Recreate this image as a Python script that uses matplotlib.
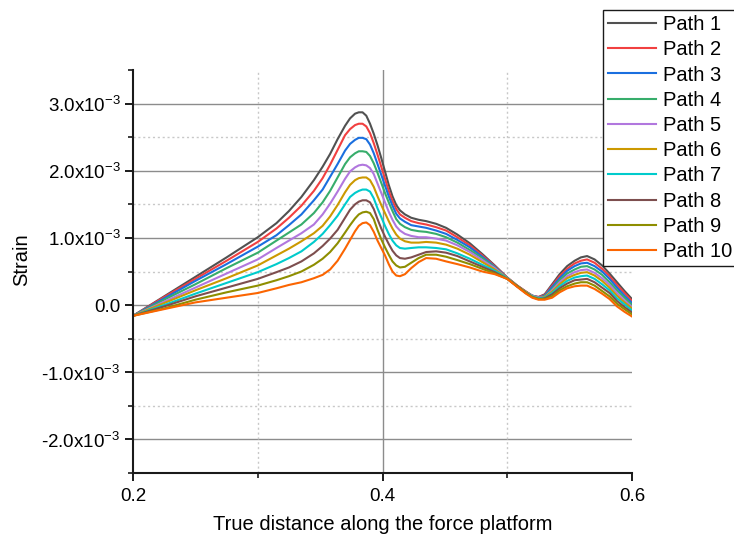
import matplotlib
matplotlib.use("Agg")
import matplotlib.pyplot as plt
from matplotlib.ticker import MultipleLocator, FuncFormatter, FixedLocator

plt.rcParams['font.family'] = ['Liberation Sans', 'DejaVu Sans']
plt.rcParams['mathtext.fontset'] = 'custom'
plt.rcParams['mathtext.rm'] = 'Liberation Sans'

# Position along the platform (m)
distance = [0.200, 0.225, 0.250, 0.275, 0.300, 0.315, 0.325, 0.335, 0.345, 0.352, 0.358,
            0.364, 0.370, 0.374, 0.378, 0.381, 0.384, 0.387, 0.390, 0.393, 0.396, 0.399,
            0.402, 0.405, 0.408, 0.411, 0.414, 0.418, 0.423, 0.429, 0.435, 0.443, 0.451,
            0.460, 0.470, 0.480, 0.490, 0.500, 0.508, 0.515, 0.520, 0.525, 0.530, 0.536,
            0.542, 0.548, 0.554, 0.559, 0.564, 0.570, 0.576, 0.582, 0.588, 0.594, 0.600]

# Strain per path, in units of 1e-3
path_1 = [-0.16, 0.13, 0.42, 0.71, 1.01, 1.22, 1.40, 1.61, 1.86, 2.06, 2.25,
          2.47, 2.67, 2.78, 2.85, 2.87, 2.87, 2.82, 2.70, 2.55, 2.38, 2.19,
          1.99, 1.79, 1.62, 1.49, 1.41, 1.35, 1.30, 1.27, 1.25, 1.21, 1.15,
          1.05, 0.92, 0.76, 0.59, 0.41, 0.29, 0.20, 0.14, 0.12, 0.16, 0.31,
          0.46, 0.58, 0.66, 0.71, 0.73, 0.68, 0.59, 0.47, 0.34, 0.21, 0.09]
path_2 = [-0.16, 0.12, 0.39, 0.66, 0.94, 1.14, 1.30, 1.48, 1.70, 1.89, 2.09,
          2.31, 2.53, 2.62, 2.68, 2.70, 2.70, 2.66, 2.56, 2.41, 2.24, 2.06,
          1.88, 1.70, 1.55, 1.43, 1.35, 1.30, 1.25, 1.22, 1.20, 1.16, 1.11,
          1.01, 0.89, 0.74, 0.58, 0.41, 0.29, 0.20, 0.14, 0.12, 0.15, 0.29,
          0.43, 0.54, 0.62, 0.66, 0.68, 0.63, 0.54, 0.43, 0.30, 0.18, 0.06]
path_3 = [-0.16, 0.10, 0.36, 0.61, 0.87, 1.04, 1.19, 1.35, 1.56, 1.72, 1.91,
          2.10, 2.30, 2.40, 2.46, 2.49, 2.49, 2.47, 2.39, 2.26, 2.10, 1.94,
          1.78, 1.62, 1.48, 1.36, 1.29, 1.24, 1.19, 1.17, 1.15, 1.11, 1.06,
          0.97, 0.86, 0.72, 0.57, 0.40, 0.28, 0.19, 0.14, 0.11, 0.14, 0.27,
          0.40, 0.51, 0.58, 0.62, 0.63, 0.58, 0.50, 0.39, 0.26, 0.14, 0.03]
path_4 = [-0.16, 0.08, 0.31, 0.55, 0.78, 0.96, 1.08, 1.20, 1.37, 1.53, 1.70,
          1.90, 2.10, 2.20, 2.26, 2.29, 2.29, 2.28, 2.22, 2.11, 1.97, 1.82,
          1.67, 1.53, 1.40, 1.28, 1.21, 1.16, 1.12, 1.10, 1.09, 1.06, 1.01,
          0.93, 0.82, 0.70, 0.56, 0.40, 0.28, 0.19, 0.14, 0.11, 0.13, 0.24,
          0.37, 0.47, 0.53, 0.57, 0.58, 0.53, 0.45, 0.34, 0.22, 0.11, 0.00]
path_5 = [-0.16, 0.05, 0.26, 0.47, 0.68, 0.85, 0.96, 1.07, 1.20, 1.35, 1.51,
          1.69, 1.88, 1.99, 2.05, 2.08, 2.09, 2.08, 2.04, 1.95, 1.81, 1.67,
          1.53, 1.39, 1.27, 1.17, 1.11, 1.06, 1.03, 1.01, 1.01, 0.99, 0.96,
          0.89, 0.79, 0.67, 0.55, 0.40, 0.28, 0.19, 0.14, 0.11, 0.12, 0.22,
          0.34, 0.43, 0.49, 0.52, 0.53, 0.48, 0.40, 0.30, 0.18, 0.07, -0.03]
path_6 = [-0.16, 0.03, 0.22, 0.40, 0.59, 0.74, 0.84, 0.95, 1.07, 1.18, 1.32,
          1.49, 1.68, 1.79, 1.86, 1.89, 1.90, 1.90, 1.86, 1.76, 1.62, 1.49,
          1.37, 1.25, 1.14, 1.05, 0.99, 0.95, 0.93, 0.93, 0.94, 0.93, 0.90,
          0.84, 0.75, 0.64, 0.53, 0.40, 0.28, 0.19, 0.13, 0.10, 0.12, 0.20,
          0.31, 0.40, 0.45, 0.48, 0.49, 0.44, 0.36, 0.26, 0.14, 0.04, -0.05]
path_7 = [-0.16, 0.00, 0.17, 0.33, 0.49, 0.61, 0.70, 0.80, 0.94, 1.06, 1.19,
          1.33, 1.50, 1.61, 1.67, 1.70, 1.72, 1.72, 1.69, 1.59, 1.44, 1.31,
          1.18, 1.06, 0.96, 0.89, 0.85, 0.84, 0.85, 0.86, 0.86, 0.85, 0.83,
          0.77, 0.69, 0.60, 0.51, 0.40, 0.28, 0.18, 0.13, 0.10, 0.11, 0.18,
          0.28, 0.36, 0.41, 0.43, 0.44, 0.39, 0.31, 0.22, 0.10, 0.01, -0.08]
path_8 = [-0.16, -0.02, 0.13, 0.26, 0.39, 0.49, 0.56, 0.65, 0.77, 0.88, 0.99,
          1.12, 1.30, 1.42, 1.50, 1.54, 1.56, 1.56, 1.53, 1.43, 1.28, 1.14,
          1.02, 0.91, 0.81, 0.74, 0.70, 0.69, 0.71, 0.75, 0.79, 0.80, 0.78,
          0.73, 0.65, 0.57, 0.49, 0.39, 0.28, 0.18, 0.12, 0.09, 0.10, 0.16,
          0.25, 0.32, 0.37, 0.38, 0.39, 0.34, 0.26, 0.18, 0.06, -0.03, -0.11]
path_9 = [-0.16, -0.05, 0.08, 0.19, 0.29, 0.37, 0.43, 0.50, 0.60, 0.69, 0.79,
          0.92, 1.08, 1.19, 1.29, 1.35, 1.38, 1.39, 1.37, 1.28, 1.12, 0.98,
          0.86, 0.75, 0.65, 0.59, 0.56, 0.57, 0.63, 0.70, 0.75, 0.75, 0.72,
          0.67, 0.61, 0.54, 0.47, 0.39, 0.28, 0.18, 0.12, 0.09, 0.09, 0.13,
          0.22, 0.28, 0.32, 0.34, 0.34, 0.29, 0.21, 0.13, 0.02, -0.06, -0.14]
path_10 = [-0.16, -0.06, 0.04, 0.11, 0.18, 0.25, 0.30, 0.34, 0.40, 0.45, 0.53,
           0.66, 0.84, 0.97, 1.10, 1.18, 1.22, 1.23, 1.19, 1.09, 0.96, 0.85,
           0.74, 0.61, 0.50, 0.44, 0.43, 0.46, 0.55, 0.64, 0.70, 0.69, 0.65,
           0.61, 0.56, 0.50, 0.46, 0.39, 0.27, 0.17, 0.11, 0.08, 0.08, 0.11,
           0.19, 0.25, 0.28, 0.29, 0.29, 0.24, 0.17, 0.09, -0.02, -0.10, -0.17]

paths = [path_1, path_2, path_3, path_4, path_5,
         path_6, path_7, path_8, path_9, path_10]
labels = ["Path %d" % (i + 1) for i in range(10)]
colors = ["#515151", "#F14040", "#1A6FDF", "#37AD6B", "#B177DE",
          "#CC9900", "#00CBCC", "#7D4E4E", "#8E8E00", "#FB6501"]

fig = plt.figure(figsize=(7.34, 5.39), dpi=100)
ax = fig.add_axes([133 / 734, 1 - 473 / 539, 499 / 734, 403 / 539])

# grid: solid at major positions, dotted at minor positions
for yv in [-2e-3, -1e-3, 0.0, 1e-3, 2e-3, 3e-3]:
    ax.axhline(yv, color="#8c8c8c", lw=1.0, zorder=0)
for yv in [-1.5e-3, -0.5e-3, 0.5e-3, 1.5e-3, 2.5e-3]:
    ax.axhline(yv, color="#c8c8c8", lw=1.0, ls=(0, (1.5, 2)), zorder=0)
ax.axvline(0.4, color="#8c8c8c", lw=1.0, zorder=0)
for xv in [0.3, 0.5]:
    ax.axvline(xv, color="#c8c8c8", lw=1.0, ls=(0, (1.5, 2)), zorder=0)

handles = []
for vals, lab, col in zip(paths, labels, colors):
    strain = [v * 1e-3 for v in vals]
    h, = ax.plot(distance, strain, color=col, lw=1.5, label=lab,
                 solid_joinstyle="round", zorder=2)
    handles.append(h)

ax.set_xlim(0.2, 0.6)
ax.set_ylim(-2.5e-3, 3.5e-3)

ax.xaxis.set_major_locator(FixedLocator([0.2, 0.4, 0.6]))
ax.xaxis.set_minor_locator(FixedLocator([0.3, 0.5]))
ax.xaxis.set_major_formatter(FuncFormatter(lambda v, p: "%.1f" % v))
ax.yaxis.set_major_locator(MultipleLocator(1e-3))
ax.yaxis.set_minor_locator(MultipleLocator(0.5e-3))


def strain_fmt(v, pos):
    if abs(v) < 1e-12:
        return "0.0"
    return "%.1fx10$^{-3}$" % (v / 1e-3)


ax.yaxis.set_major_formatter(FuncFormatter(strain_fmt))

for side in ["top", "right"]:
    ax.spines[side].set_visible(False)
for side in ["left", "bottom"]:
    ax.spines[side].set_linewidth(1.5)
    ax.spines[side].set_color("#1a1a1a")

ax.tick_params(which="major", direction="out", length=6, width=1.4,
               color="#1a1a1a", labelsize=13.5)
ax.tick_params(which="minor", direction="out", length=3.5, width=1.2,
               color="#1a1a1a")
ax.tick_params(axis="x", which="major", pad=5)
ax.tick_params(axis="y", which="major", pad=3)

fig.text(382.5 / 734, 1 - 525 / 539, "True distance along the force platform",
         ha="center", va="center", fontsize=14.5)
fig.text(22 / 734, 1 - 260 / 539, "Strain", rotation=90,
         ha="center", va="center", fontsize=14.5)

leg = fig.legend(handles=handles, loc="upper left",
                 bbox_to_anchor=(603 / 734, 1 - 10 / 539),
                 fontsize=14.5, frameon=True, fancybox=False, shadow=False,
                 framealpha=1.0, edgecolor="#1a1a1a", handlelength=2.4,
                 handletextpad=0.35, labelspacing=0.31, borderpad=0.25,
                 borderaxespad=0.0)
leg.get_frame().set_linewidth(1.0)

fig.savefig("out.png", dpi=100)
